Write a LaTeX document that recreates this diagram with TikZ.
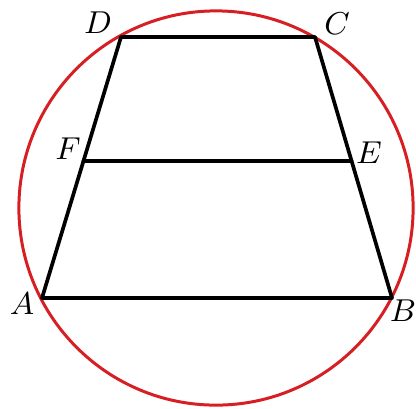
\documentclass[tikz,border=0pt]{standalone}
\usepackage{tikz}
\usetikzlibrary{calc}
\definecolor{gmred}{RGB}{215,30,35}
\tikzset{
  gmcircle/.style={draw=gmred, line width=0.85pt},
  gmedge/.style={line width=1.05pt, line join=round, line cap=round},
  gmlabel/.style={font=\fontsize{9}{10}\selectfont, inner sep=0pt},
  gmpoint/.style={coordinate}
}
\begin{document}
\begin{tikzpicture}[x=0.01cm,y=-0.01cm]
  \useasboundingbox (0,0) rectangle (416,408);
  % circle through A, B, C, D
  \node[gmpoint] (O) at (216,208) {};
  \draw[gmcircle] (O) circle[radius=1.97cm];
  % vertices of the trapezoid
  \node[gmpoint] (A) at (42,298) {};
  \node[gmpoint] (B) at (392,298) {};
  \node[gmpoint] (C) at (315,37) {};
  \node[gmpoint] (D) at (121,37) {};
  \node[gmpoint] (F) at ($(A)!0.525!(D)$) {};
  \node[gmpoint] (E) at ($(B)!0.525!(C)$) {};
  \draw[gmedge] (A) -- (B) -- (C) -- (D) -- cycle;
  \draw[gmedge] (F) -- (E);
  % labels
  \node[gmlabel] (lA) at (22,304) {$A$};
  \node[gmlabel] (lB) at (403,311) {$B$};
  \node[gmlabel] (lC) at (337,24) {$C$};
  \node[gmlabel] (lD) at (98,23) {$D$};
  \node[gmlabel] (lE) at (369,153) {$E$};
  \node[gmlabel] (lF) at (68,149) {$F$};
\end{tikzpicture}
\end{document}
